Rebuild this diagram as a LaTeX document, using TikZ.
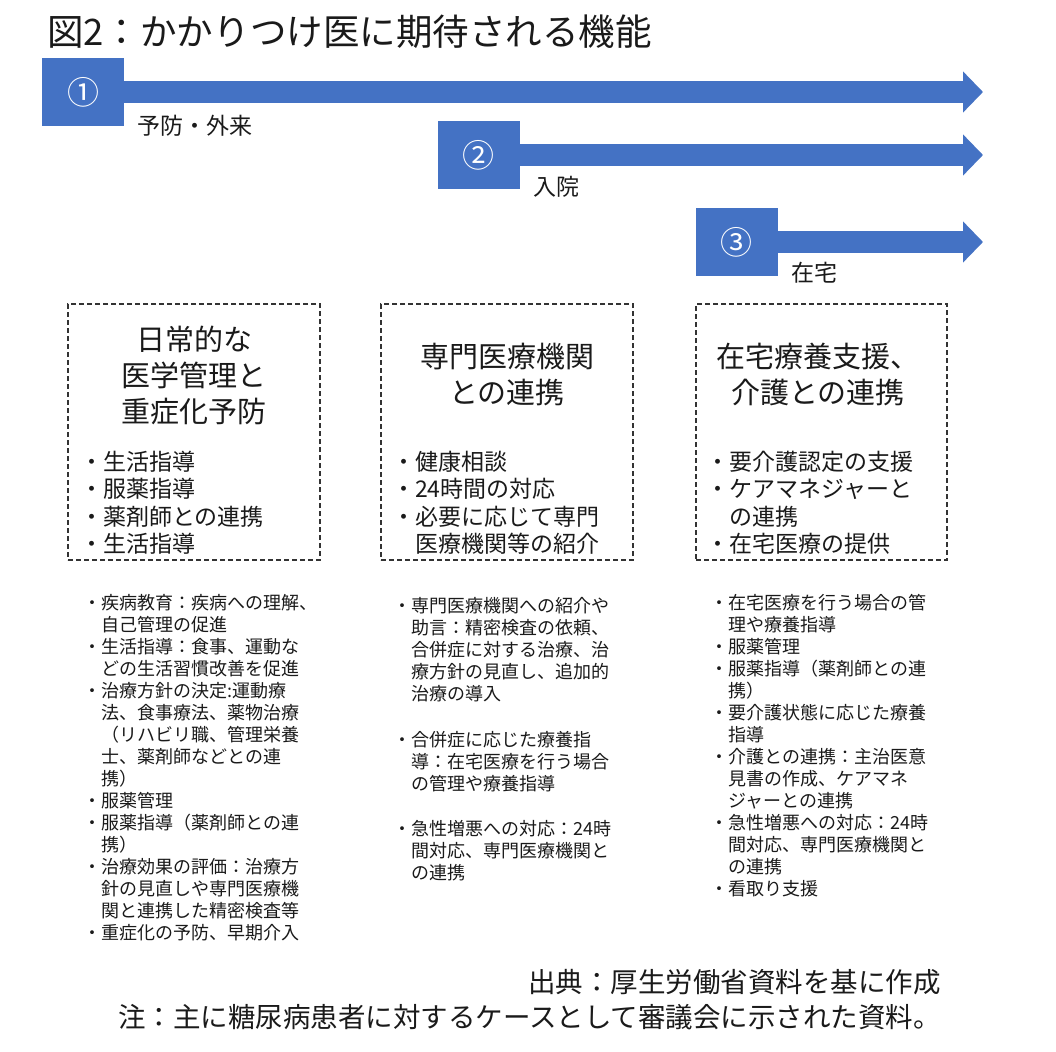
\documentclass[tikz,border=0pt]{standalone}
\usepackage{fontspec}
\setmainfont{Noto Sans CJK JP}
\usetikzlibrary{arrows.meta}
\definecolor{ablue}{HTML}{4472C4}
\definecolor{tgray}{HTML}{1A1A1A}
\begin{document}
\begin{tikzpicture}[x=1pt,y=-1pt,
  sq/.style={fill=ablue, draw=none, minimum width=82pt, minimum height=68pt, inner sep=0pt, text=white, font=\fontsize{32}{34}\selectfont},
  bar/.style={draw=ablue, line width=22pt, -{Triangle[length=20pt,width=40pt]}},
  lbl/.style={anchor=west, inner sep=0pt, text=tgray, font=\fontsize{23}{26}\selectfont},
  dbox/.style={draw=black!80, line width=1.4pt, dash pattern=on 5pt off 3pt},
  head/.style={anchor=north, inner sep=0pt, align=center, text=tgray, font=\fontsize{29}{36}\selectfont},
  blist/.style={anchor=north west, inner sep=0pt, align=left, text=tgray, font=\fontsize{23}{27.5}\selectfont},
  slist/.style={anchor=north west, inner sep=0pt, align=left, text=tgray, font=\fontsize{18}{22}\selectfont},
  foot/.style={anchor=north east, inner sep=0pt, align=right, text=tgray, font=\fontsize{27.5}{35}\selectfont}
]
\useasboundingbox (0,0) rectangle (1056,1051);
\fill[white] (0,0) rectangle (1056,1051);

% title
\node[anchor=west, inner sep=0pt, text=tgray, font=\fontsize{36.5}{40}\selectfont] (title) at (47,32) {図2：かかりつけ医に期待される機能};

% arrows
\node[sq] (s1) at (83,92) {①};
\node[sq] (s2) at (478.5,155) {②};
\node[sq] (s3) at (736.5,242) {③};
\coordinate (t1) at (983,92);
\coordinate (t2) at (983,155);
\coordinate (t3) at (983,242);
\draw[bar] (s1.east) -- (t1);
\draw[bar] (s2.east) -- (t2);
\draw[bar] (s3.east) -- (t3);
\node[lbl] (l1) at (137,126) {予防・外来};
\node[lbl] (l2) at (533,187) {入院};
\node[lbl] (l3) at (791,273) {在宅};

% dashed boxes
\node[dbox, minimum width=252pt, minimum height=256pt, inner sep=0pt] (b1) at (194,432) {};
\node[dbox, minimum width=252pt, minimum height=256pt, inner sep=0pt] (b2) at (507,432) {};
\node[dbox, minimum width=251pt, minimum height=256pt, inner sep=0pt] (b3) at (821.5,432) {};

\node[head] (h1) at (194,325.5) {日常的な\\医学管理と\\重症化予防};
\node[head] (h2) at (507,342.5) {専門医療機関\\との連携};
\node[head] (h3) at (818,342.5) {在宅療養支援、\\介護との連携};

\node[blist] (p1) at (80,450.5) {・生活指導\\・服薬指導\\・薬剤師との連携\\・生活指導};
\node[blist] (p2) at (392,450.5) {・健康相談\\・24時間の対応\\・必要に応じて専門\\\hspace{1em}医療機関等の紹介};
\node[blist] (p3) at (706,450.5) {・要介護認定の支援\\・ケアマネジャーと\\\hspace{1em}の連携\\・在宅医療の提供};

% detail lists
\node[slist] (d1) at (83,594) {・疾病教育：疾病への理解、\\\hspace{1em}自己管理の促進\\・生活指導：食事、運動な\\\hspace{1em}どの生活習慣改善を促進\\・治療方針の決定:運動療\\\hspace{1em}法、食事療法、薬物治療\\\hspace{1em}（リハビリ職、管理栄養\\\hspace{1em}士、薬剤師などとの連\\\hspace{1em}携）\\・服薬管理\\・服薬指導（薬剤師との連\\\hspace{1em}携）\\・治療効果の評価：治療方\\\hspace{1em}針の見直しや専門医療機\\\hspace{1em}関と連携した精密検査等\\・重症化の予防、早期介入};
\node[slist] (d2) at (393.5,597) {・専門医療機関への紹介や\\\hspace{1em}助言：精密検査の依頼、\\\hspace{1em}合併症に対する治療、治\\\hspace{1em}療方針の見直し、追加的\\\hspace{1em}治療の導入\\[24pt]・合併症に応じた療養指\\\hspace{1em}導：在宅医療を行う場合\\\hspace{1em}の管理や療養指導\\[23pt]・急性増悪への対応：24時\\\hspace{1em}間対応、専門医療機関と\\\hspace{1em}の連携};
\node[slist] (d3) at (710.5,594) {・在宅医療を行う場合の管\\\hspace{1em}理や療養指導\\・服薬管理\\・服薬指導（薬剤師との連\\\hspace{1em}携）\\・要介護状態に応じた療養\\\hspace{1em}指導\\・介護との連携：主治医意\\\hspace{1em}見書の作成、ケアマネ\\\hspace{1em}ジャーとの連携\\・急性増悪への対応：24時\\\hspace{1em}間対応、専門医療機関と\\\hspace{1em}の連携\\・看取り支援};

% footer
\node[foot] (f1) at (941,969) {出典：厚生労働省資料を基に作成\\注：主に糖尿病患者に対するケースとして審議会に示された資料。};
\end{tikzpicture}
\end{document}
